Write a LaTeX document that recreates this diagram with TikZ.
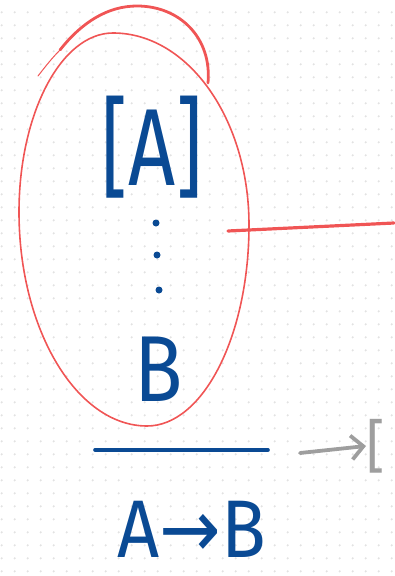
\documentclass[tikz,border=0pt]{standalone}
\usepackage{fontspec}
\setsansfont{Fira Sans}
\newfontfamily\arrowfont{DejaVu Sans}
\usetikzlibrary{arrows.meta}
\definecolor{InkBlue}{HTML}{0A4A94}
\definecolor{InkRed}{HTML}{F05555}
\definecolor{InkGrey}{HTML}{9E9E9E}
\definecolor{GridDot}{HTML}{E2E2E2}

\begin{document}
\begin{tikzpicture}[x=1bp,y=-1bp,line cap=round,line join=round,
  hand/.style={text=InkBlue,inner sep=0pt},
  handfont/.style={font=\sffamily\fontsize{#1}{#1}\selectfont}]
  \useasboundingbox (0,0) rectangle (394,576);
  % dotted paper
  \foreach \i in {0,...,30}
    \foreach \j in {1,...,44}
      \fill[GridDot] ({1.7+13*\i},{-0.7+13*\j}) circle (1.2);
  % red loop round the derivation
  \draw[InkRed,line width=1.6] (113,33) .. controls (188,33) and (249,119) .. (249,225)
    .. controls (249,336) and (203,426) .. (147,426)
    .. controls (77,426) and (19,330) .. (19,212)
    .. controls (19,114) and (61,33) .. (113,33);
  \draw[InkRed,line width=1] (38,76) .. controls (45,67) and (52,58) .. (60,50);
  \draw[InkRed,line width=2.8] (60,50) .. controls (82,22) and (108,6) .. (137,6)
    .. controls (180,6) and (212,38) .. (208,83);
  % derivation
  \node[hand,handfont=110] (premise) at (152,147) {\scalebox{0.75}[1]{[A]}};
  \foreach \x/\y [count=\k] in {156/223,157/255,159/290}
    \fill[InkBlue] (\x,\y) circle (3.5) coordinate (dot\k);
  \node[hand,handfont=94] (concl) at (159,369) {\scalebox{0.85}[1]{B}};
  \coordinate (barL) at (95,450);
  \coordinate (barR) at (268,450);
  \draw[InkBlue,line width=3.6] (barL) -- (barR);
  \node[hand,handfont=82,anchor=base] (impl) at (192,557) {\scalebox{0.9}[1]{A{\arrowfont →}B}};
  % red line out of the loop
  \coordinate (tail) at (228,231);
  \coordinate (edge) at (394,223);
  \draw[InkRed,line width=3.2] (tail) -- (edge);
  % grey arrow to the next step
  \node[text=InkGrey,inner sep=0pt,anchor=west,handfont=58] (next) at (366,446) {[};
  \coordinate (start) at (300,453);
  \draw[InkGrey,line width=3.8,-{Straight Barb[length=12bp,width=24bp]}] (start) -- (next.west);
\end{tikzpicture}
\end{document}
